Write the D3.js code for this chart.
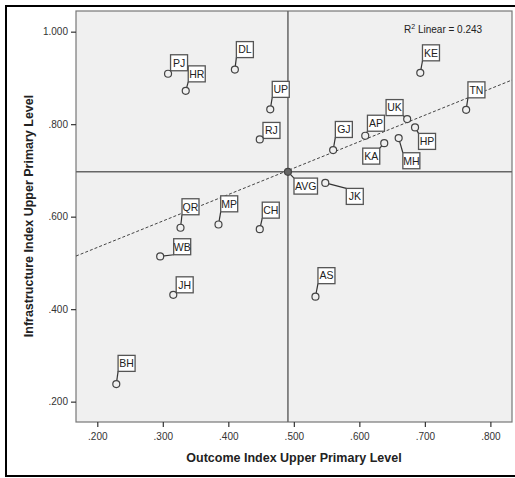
<!DOCTYPE html>
<html>
<head>
<meta charset="utf-8">
<script src="https://cdn.jsdelivr.net/npm/d3@7"></script>
<style>
    body { margin: 0; background: white; }
    svg { display: block; font-family: "Liberation Sans", Arial, sans-serif; }
</style>
</head>
<body>
<svg id="chart"></svg>
<script>

// states and their index values
let states = ["PJ", "HR", "DL", "UP", "RJ", "GJ", "AP", "UK", "HP", "KA", "MH", "KE", "TN",
    "JK", "CH", "QR", "MP", "WB", "JH", "BH", "AS"];
let outcome = [0.308, 0.335, 0.410, 0.464, 0.448, 0.560, 0.609, 0.673, 0.685, 0.638, 0.660, 0.693, 0.763,
    0.548, 0.448, 0.327, 0.385, 0.296, 0.316, 0.229, 0.533];
let infrastructure = [0.909, 0.872, 0.918, 0.832, 0.767, 0.744, 0.775, 0.811, 0.793, 0.759, 0.770, 0.911, 0.831,
    0.673, 0.573, 0.576, 0.583, 0.514, 0.431, 0.238, 0.427];

// the average point, where the reference lines cross
let avgOutcome = 0.491;
let avgInfrastructure = 0.697;

// fit line
let fitIntercept = 0.419;
let fitSlope = 0.572;
let rSquared = "0.243";

let xTicks = [0.2, 0.3, 0.4, 0.5, 0.6, 0.7, 0.8];
let yTicks = [0.2, 0.4, 0.6, 0.8, 1.0];

// where each label box sits relative to its point (pixels)
let labelNudge = {
    PJ: [11, -11], HR: [11, -17], DL: [10, -20], UP: [10.5, -20], RJ: [11.7, -9],
    GJ: [10.7, -20.6], AP: [10.7, -12.5], UK: [-12.6, -11.5], HP: [12, 14], KA: [-13, 13],
    MH: [12.7, 22.7], KE: [10.7, -20], TN: [10.3, -20], JK: [29.5, 13.5], CH: [11, -19],
    QR: [10, -21], MP: [10.7, -20.7], WB: [22, -9.7], JH: [11.4, -10], BH: [10.3, -20.7],
    AS: [11, -21], AVG: [17.8, 14.3]
};

let width = 515;
let height = 478;
let plotLeft = 76, plotRight = 512, plotTop = 11, plotBottom = 422;

let svg = d3.select("#chart")
    .attr("width", width)
    .attr("height", height);

// outer frame
svg.append("rect")
    .attr("x", 6)
    .attr("y", 6)
    .attr("width", 520)
    .attr("height", 470)
    .attr("fill", "white")
    .attr("stroke", "black")
    .attr("stroke-width", 2);

let scaleX = d3.scaleLinear()
    .domain([0.1675, 0.833])
    .range([plotLeft, plotRight]);

let scaleY = d3.scaleLinear()
    .domain([0.156, 1.0447])
    .range([plotBottom, plotTop]);

// plot background
svg.append("rect")
    .attr("x", plotLeft)
    .attr("y", plotTop)
    .attr("width", plotRight - plotLeft)
    .attr("height", plotBottom - plotTop)
    .attr("fill", "#f0f0f0")
    .attr("stroke", "#777")
    .attr("stroke-width", 1.2);

let fmt = v => d3.format(".3f")(v).replace(/^0\./, ".");

// AXES
let xAxis = d3.axisBottom(scaleX)
    .tickValues(xTicks)
    .tickSize(5)
    .tickFormat(fmt);

let yAxis = d3.axisLeft(scaleY)
    .tickValues(yTicks)
    .tickSize(5)
    .tickFormat(fmt);

let gx = svg.append("g")
    .attr("transform", `translate(0,${plotBottom})`)
    .call(xAxis);

let gy = svg.append("g")
    .attr("transform", `translate(${plotLeft},0)`)
    .call(yAxis);

for (let g of [gx, gy]) {
    g.select(".domain").remove();
    g.selectAll(".tick line").attr("stroke", "#333").attr("stroke-width", 1.2);
    g.selectAll(".tick text")
        .style("font-size", "10px")
        .style("fill", "#333")
        .style("font-family", "Liberation Sans, Arial, sans-serif");
}
gx.selectAll(".tick text").attr("dy", "1em");

// AXIS TITLES
svg.append("text")
    .attr("x", 294)
    .attr("y", 462)
    .attr("text-anchor", "middle")
    .style("font-size", "12.5px")
    .style("font-weight", "bold")
    .style("fill", "#222")
    .text("Outcome Index Upper Primary Level");

svg.append("text")
    .attr("transform", "translate(33,216) rotate(-90)")
    .attr("text-anchor", "middle")
    .style("font-size", "12.5px")
    .style("font-weight", "bold")
    .style("fill", "#222")
    .text("Infrastructure Index Upper Primary Level");

// REFERENCE LINES
svg.append("line")
    .attr("x1", scaleX(avgOutcome))
    .attr("x2", scaleX(avgOutcome))
    .attr("y1", plotTop)
    .attr("y2", plotBottom)
    .attr("stroke", "#666")
    .attr("stroke-width", 1.5);

svg.append("line")
    .attr("x1", plotLeft)
    .attr("x2", plotRight)
    .attr("y1", scaleY(avgInfrastructure))
    .attr("y2", scaleY(avgInfrastructure))
    .attr("stroke", "#666")
    .attr("stroke-width", 1.5);

// FIT LINE
let x0 = scaleX.domain()[0], x1 = scaleX.domain()[1];
svg.append("line")
    .attr("x1", scaleX(x0))
    .attr("y1", scaleY(fitIntercept + fitSlope * x0))
    .attr("x2", scaleX(x1))
    .attr("y2", scaleY(fitIntercept + fitSlope * x1))
    .attr("stroke", "#444")
    .attr("stroke-width", 1)
    .attr("stroke-dasharray", "3,2");

// R² TEXT
let rText = svg.append("text")
    .attr("x", 404)
    .attr("y", 33)
    .style("font-size", "10px")
    .style("fill", "#222");
rText.append("tspan").text("R");
rText.append("tspan").attr("dy", -4).style("font-size", "7px").text("2");
rText.append("tspan").attr("dy", 4).text(" Linear = " + rSquared);

// POINTS + LABELS
let points = states.map((name, i) => ({ name: name, x: outcome[i], y: infrastructure[i], avg: false }));
points.push({ name: "AVG", x: avgOutcome, y: avgInfrastructure, avg: true });

let groups = svg.selectAll(".state")
    .data(points)
    .enter()
    .append("g")
    .attr("class", "state");

groups.each(function (d) {
    let g = d3.select(this);
    let px = scaleX(d.x);
    let py = scaleY(d.y);
    let nudge = labelNudge[d.name];
    let cx = px + nudge[0];
    let cy = py + nudge[1];
    let boxW = d.name.length * 6.5 + 4;
    let boxH = 16;
    let bx = cx - boxW / 2, by = cy - boxH / 2;

    // leader line to nearest edge of box
    let ex = Math.max(bx, Math.min(px, bx + boxW));
    let ey = Math.max(by, Math.min(py, by + boxH));
    g.append("line")
        .attr("x1", px).attr("y1", py)
        .attr("x2", ex).attr("y2", ey)
        .attr("stroke", "#333")
        .attr("stroke-width", 1.2);

    g.append("rect")
        .attr("x", bx).attr("y", by)
        .attr("width", boxW).attr("height", boxH)
        .attr("fill", "white")
        .attr("stroke", "#555")
        .attr("stroke-width", 1.3);

    g.append("text")
        .attr("x", cx)
        .attr("y", cy + 3.8)
        .attr("text-anchor", "middle")
        .style("font-size", "10.5px")
        .style("fill", "#222")
        .text(d.name);

    g.append("circle")
        .attr("cx", px).attr("cy", py)
        .attr("r", 3.5)
        .attr("fill", d.avg ? "#666" : "#f0f0f0")
        .attr("stroke", "#444")
        .attr("stroke-width", 1.2);
});

</script>
</body>
</html>
